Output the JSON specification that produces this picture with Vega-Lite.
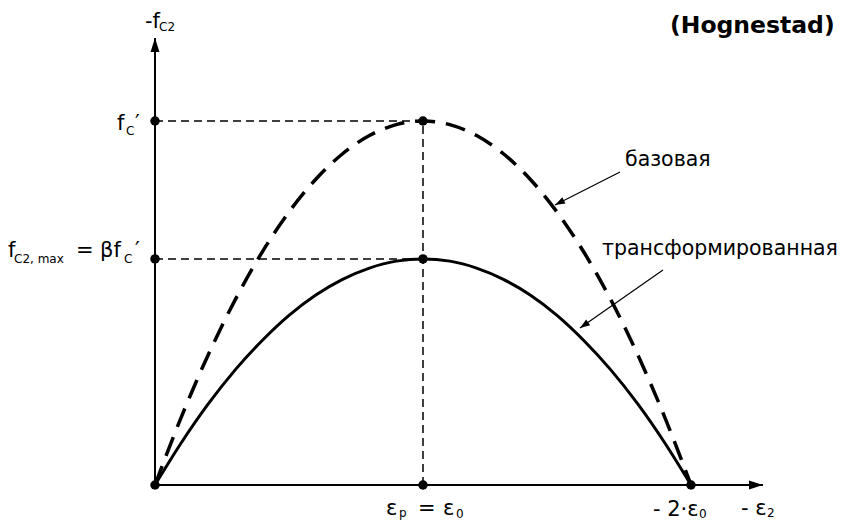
{
  "$schema": "https://vega.github.io/schema/vega-lite/v6.json",
  "width": 846,
  "height": 521,
  "autosize": "none",
  "padding": 0,
  "background": "white",
  "config": {"view": {"stroke": null}},
  "encoding": {
    "x": {"field": "x", "type": "quantitative", "axis": null, "scale": {"domain": [-0.5784, 2.5784], "nice": false, "zero": false}},
    "y": {"field": "y", "type": "quantitative", "axis": null, "scale": {"domain": [-0.0989, 1.3324], "nice": false, "zero": false}}
  },
  "layer": [
    {
      "data": {"values": [
        {"x": 0, "y": 1, "x2": 1, "y2": 1},
        {"x": 0, "y": 0.621, "x2": 1, "y2": 0.621},
        {"x": 1, "y": 0, "x2": 1, "y2": 1}
      ]},
      "mark": {"type": "rule", "color": "black", "strokeWidth": 1.5, "strokeDash": [8, 5]},
      "encoding": {"x2": {"field": "x2"}, "y2": {"field": "y2"}}
    },
    {
      "data": {"values": [
        {"x": 0, "y": 0, "x2": 2.2687, "y2": 0},
        {"x": 0, "y": 0, "x2": 0, "y2": 1.228}
      ]},
      "mark": {"type": "rule", "color": "black", "strokeWidth": 2},
      "encoding": {"x2": {"field": "x2"}, "y2": {"field": "y2"}}
    },
    {
      "data": {"values": [{"x": 2.2687, "y": 0}]},
      "mark": {"type": "point", "shape": "M0,0L-2,-0.64L-2,0.64Z", "size": 196, "filled": true, "color": "black", "opacity": 1, "angle": 0}
    },
    {
      "data": {"values": [{"x": 0, "y": 1.228}]},
      "mark": {"type": "point", "shape": "M0,0L-2,-0.64L-2,0.64Z", "size": 196, "filled": true, "color": "black", "opacity": 1, "angle": 270}
    },
    {
      "data": {"values": [
        {"x": 0, "y": 0}, {"x": 0.1, "y": 0.19}, {"x": 0.2, "y": 0.36}, {"x": 0.3, "y": 0.51},
        {"x": 0.4, "y": 0.64}, {"x": 0.5, "y": 0.75}, {"x": 0.6, "y": 0.84}, {"x": 0.7, "y": 0.91},
        {"x": 0.8, "y": 0.96}, {"x": 0.9, "y": 0.99}, {"x": 1.0, "y": 1.0}, {"x": 1.1, "y": 0.99},
        {"x": 1.2, "y": 0.96}, {"x": 1.3, "y": 0.91}, {"x": 1.4, "y": 0.84}, {"x": 1.5, "y": 0.75},
        {"x": 1.6, "y": 0.64}, {"x": 1.7, "y": 0.51}, {"x": 1.8, "y": 0.36}, {"x": 1.9, "y": 0.19},
        {"x": 2.0, "y": 0}
      ]},
      "mark": {"type": "line", "color": "black", "strokeWidth": 3.5, "strokeDash": [20, 11], "interpolate": "monotone"},
      "encoding": {"order": {"field": "x", "type": "quantitative"}}
    },
    {
      "data": {"values": [
        {"x": 0, "y": 0}, {"x": 0.1, "y": 0.118}, {"x": 0.2, "y": 0.224}, {"x": 0.3, "y": 0.317},
        {"x": 0.4, "y": 0.397}, {"x": 0.5, "y": 0.466}, {"x": 0.6, "y": 0.522}, {"x": 0.7, "y": 0.565},
        {"x": 0.8, "y": 0.596}, {"x": 0.9, "y": 0.615}, {"x": 1.0, "y": 0.621}, {"x": 1.1, "y": 0.615},
        {"x": 1.2, "y": 0.596}, {"x": 1.3, "y": 0.565}, {"x": 1.4, "y": 0.522}, {"x": 1.5, "y": 0.466},
        {"x": 1.6, "y": 0.397}, {"x": 1.7, "y": 0.317}, {"x": 1.8, "y": 0.224}, {"x": 1.9, "y": 0.118},
        {"x": 2.0, "y": 0}
      ]},
      "mark": {"type": "line", "color": "black", "strokeWidth": 3, "interpolate": "monotone"},
      "encoding": {"order": {"field": "x", "type": "quantitative"}}
    },
    {
      "data": {"values": [
        {"x": 0, "y": 0}, {"x": 1, "y": 0}, {"x": 2, "y": 0},
        {"x": 0, "y": 1}, {"x": 0, "y": 0.621},
        {"x": 1, "y": 1}, {"x": 1, "y": 0.621}
      ]},
      "mark": {"type": "point", "shape": "circle", "size": 90, "filled": true, "color": "black", "opacity": 1}
    },
    {
      "data": {"values": [
        {"x": 1.7351, "y": 0.8599, "x2": 1.4925, "y2": 0.7692},
        {"x": 1.8955, "y": 0.5907, "x2": 1.5858, "y2": 0.4313}
      ]},
      "mark": {"type": "rule", "color": "black", "strokeWidth": 1.2},
      "encoding": {"x2": {"field": "x2"}, "y2": {"field": "y2"}}
    },
    {
      "data": {"values": [{"x": 1.4925, "y": 0.7692}]},
      "mark": {"type": "point", "shape": "M0,0L-2,-0.7L-2,0.7Z", "size": 100, "filled": true, "color": "black", "opacity": 1, "angle": 153}
    },
    {
      "data": {"values": [{"x": 1.5858, "y": 0.4313}]},
      "mark": {"type": "point", "shape": "M0,0L-2,-0.7L-2,0.7Z", "size": 100, "filled": true, "color": "black", "opacity": 1, "angle": 145}
    },
    {
      "data": {"values": [
        {"x": -0.0373, "y": 1.2555, "t": "-f"},
        {"x": -0.1418, "y": 0.9753, "t": "f"},
        {"x": -0.0746, "y": 0.9753, "t": "′"},
        {"x": -0.5485, "y": 0.6264, "t": "f"},
        {"x": -0.2948, "y": 0.6264, "t": "="},
        {"x": -0.2052, "y": 0.6264, "t": "βf"},
        {"x": -0.0746, "y": 0.6264, "t": "′"},
        {"x": 0.8619, "y": -0.0824, "t": "ε"},
        {"x": 0.9813, "y": -0.0824, "t": "="},
        {"x": 1.0746, "y": -0.0824, "t": "ε"},
        {"x": 1.8582, "y": -0.0852, "t": "- 2·ε"},
        {"x": 2.1866, "y": -0.0824, "t": "- ε"}
      ]},
      "mark": {"type": "text", "align": "left", "baseline": "alphabetic", "font": "DejaVu Sans", "fontSize": 21, "color": "black"},
      "encoding": {"text": {"field": "t"}}
    },
    {
      "data": {"values": [
        {"x": 0.0149, "y": 1.2473, "t": "C2"},
        {"x": -0.1082, "y": 0.9615, "t": "C"},
        {"x": -0.5261, "y": 0.6099, "t": "C2, max"},
        {"x": -0.1157, "y": 0.6099, "t": "C"},
        {"x": 0.9104, "y": -0.0879, "t": "p"},
        {"x": 1.1231, "y": -0.0907, "t": "0"},
        {"x": 2.0299, "y": -0.0907, "t": "0"},
        {"x": 2.2836, "y": -0.0879, "t": "2"}
      ]},
      "mark": {"type": "text", "align": "left", "baseline": "alphabetic", "font": "DejaVu Sans", "fontSize": 12, "color": "black"},
      "encoding": {"text": {"field": "t"}}
    },
    {
      "data": {"values": [
        {"x": 1.7537, "y": 0.8764, "t": "базовая"},
        {"x": 1.6679, "y": 0.6319, "t": "трансформированная"}
      ]},
      "mark": {"type": "text", "align": "left", "baseline": "alphabetic", "font": "DejaVu Sans", "fontSize": 20.5, "color": "black"},
      "encoding": {"text": {"field": "t"}}
    },
    {
      "data": {"values": [{"x": 1.9216, "y": 1.2418, "t": "(Hognestad)"}]},
      "mark": {"type": "text", "align": "left", "baseline": "alphabetic", "font": "DejaVu Sans", "fontWeight": "bold", "fontSize": 23.5, "color": "black"},
      "encoding": {"text": {"field": "t"}}
    }
  ]
}
